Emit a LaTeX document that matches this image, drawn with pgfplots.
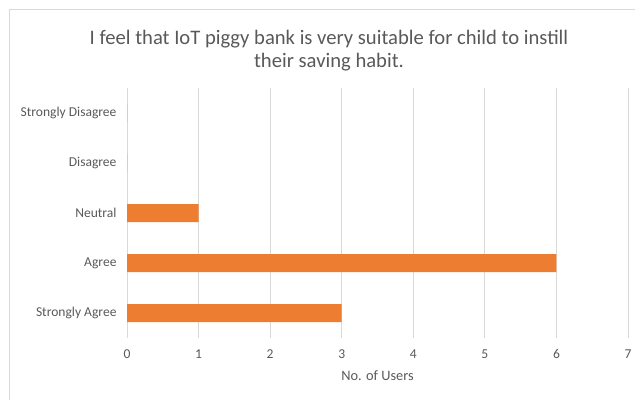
\documentclass[border=0pt]{standalone}
\usepackage{fontspec}
\setmainfont{Carlito}
\usepackage{pgfplots}
\pgfplotsset{compat=1.18}
\definecolor{barorange}{HTML}{ED7D31}
\definecolor{gridgray}{HTML}{D9D9D9}
\definecolor{txtgray}{HTML}{595959}
\definecolor{bordergray}{HTML}{D9D9D9}
\begin{document}
\begin{tikzpicture}[x=1bp,y=1bp]
\useasboundingbox (0,0) rectangle (635,399);
\draw[bordergray,line width=0.75bp] (9,-5) rectangle (640,390);
\node[text=txtgray,font=\fontsize{20.7}{23}\selectfont,align=center] at (329,348) {I feel that IoT piggy bank is very suitable for child to instill\\their saving habit.};
\begin{axis}[
  at={(127bp,61bp)}, anchor=south west,
  scale only axis, width=501bp, height=250bp,
  xmin=0, xmax=7, ymin=0.5, ymax=5.5,
  xtick={0,...,7},
  ytick={1,...,5},
  yticklabels={Strongly Agree,Agree,Neutral,Disagree,Strongly Disagree},
  minor ytick={0.5,1.5,...,5.5},
  major tick length=0pt,
  minor tick length=5bp,
  tick align=outside,
  ytick style={draw=none},
  minor tick style={draw=gridgray,line width=0.75bp},
  axis line style={draw=none},
  xmajorgrids, grid style={draw=gridgray,line width=0.75bp},
  /pgf/number format/assume math mode=true,
  ticklabel style={text=txtgray,font=\fontsize{13.6}{16}\selectfont},
  xticklabel style={yshift=-8bp},
  yticklabel style={xshift=-7bp},
  xlabel={No. of Users},
  xlabel style={text=txtgray,font=\fontsize{14.4}{16}\selectfont,yshift=-5bp},
  xbar, bar width=18bp,
  clip=false,
]
\addplot[fill=barorange,draw=none] coordinates {(3,1) (6,2) (1,3) (0,4) (0,5)};
\end{axis}
\end{tikzpicture}
\end{document}
